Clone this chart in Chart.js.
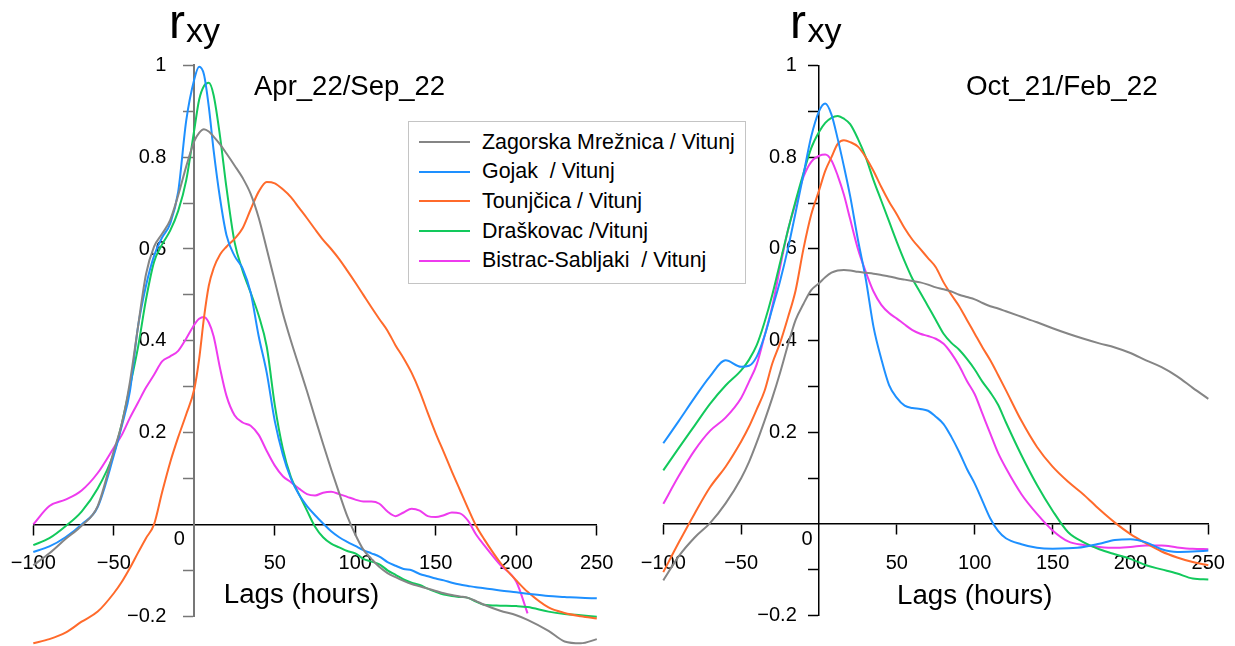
<!DOCTYPE html>
<html lang="hr">
<head>
    <meta charset="UTF-8">
    <title>Cross-correlation r_xy</title>
    <script src="https://cdn.jsdelivr.net/npm/chart.js"></script>
    <style>
        html, body {
            margin: 0;
            padding: 0;
            background: #fff;
            overflow: hidden;
        }
        #wrap {
            position: relative;
            width: 1235px;
            height: 646px;
            overflow: hidden;
        }
        canvas {
            position: absolute;
            top: 0;
        }
        /* canvases reach a little past the window so the tick-label padding does not squeeze the plot */
        #chart-apr { left: -20px; }
        #chart-oct { left: 620px; }
        .legend {
            position: absolute;
            left: 408px;
            top: 121px;
            width: 336px;
            height: 161px;
            border: 1.5px solid #c4c4c4;
            background: #fff;
            font-family: "Liberation Sans", Arial, sans-serif;
            font-size: 21.4px;
            color: #000;
        }
        .legend .row {
            position: absolute;
            left: 0;
            height: 30px;
            display: flex;
            align-items: center;
            white-space: pre;
        }
        .legend .swatch {
            width: 51px;
            height: 0;
            border-top: 2.5px solid;
            margin-left: 10px;
            margin-right: 12px;
        }
    </style>
</head>
<body>
<div id="wrap">
    <canvas id="chart-apr" width="660" height="646"></canvas>
    <canvas id="chart-oct" width="640" height="646"></canvas>
    <div class="legend" id="legend"></div>
</div>

<script>
    const fontFamily = '"Liberation Sans", Arial, Helvetica, sans-serif';

    // series (same order in both panels)
    const seriesNames = ['Zagorska Mrežnica / Vitunj', 'Gojak  / Vitunj', 'Tounjčica / Vitunj', 'Draškovac /Vitunj', 'Bistrac-Sabljaki  / Vitunj'];
    const seriesColors = ['#858585', '#1E90FF', '#FF6A2B', '#12C95C', '#EE3BEE'];

    // axis ticks
    const xTickValues = [-100, -50, 50, 100, 150, 200, 250];
    const xTickLabels = ['\u2212100', '\u221250', '50', '100', '150', '200', '250'];
    const yTickValues = [-0.2, -0.1, 0.1, 0.2, 0.3, 0.4, 0.5, 0.6, 0.7, 0.8, 0.9, 1];
    const yTickLabels = ['\u22120.2', '', '', '0.2', '', '0.4', '', '0.6', '', '0.8', '', '1'];

    // ---- Apr_22/Sep_22 ----
    const lagsApr = [-100, -90, -80, -70, -60, -50, -45, -40, -35, -30, -25, -20, -15, -10, -5,
        0, 3, 6, 9, 12, 16, 20,
        25, 30, 35, 40, 45, 50, 55, 60, 65, 70, 75, 80, 85, 90, 95, 100, 105, 110, 115, 120,
        125, 130, 135, 140, 145, 150, 155, 160, 165, 170, 175, 180,
        190, 200, 207, 220, 230, 240, 250];
    const zagorskaApr = [-0.089, -0.063, -0.032, -0.003, 0.04, 0.16, 0.22, 0.31, 0.43, 0.545, 0.605, 0.633, 0.663, 0.717, 0.78,
        0.835, 0.853, 0.861, 0.856, 0.845, 0.828, 0.808,
        0.782, 0.755, 0.72, 0.668, 0.6, 0.53, 0.46, 0.40, 0.345, 0.29, 0.232, 0.175, 0.12, 0.068, 0.018, -0.022, -0.055, -0.075, -0.093, -0.106,
        -0.115, -0.123, -0.13, -0.135, -0.14, -0.145, -0.15, -0.154, -0.157, -0.16, -0.167, -0.175,
        -0.188, -0.198, -0.208, -0.232, -0.255, -0.259, -0.25];
    const gojakApr = [-0.06, -0.048, -0.028, 0.0, 0.038, 0.15, 0.215, 0.29, 0.43, 0.52, 0.585, 0.625, 0.655, 0.725, 0.88,
        0.97, 0.997, 0.98, 0.91, 0.815, 0.71, 0.63,
        0.585, 0.558, 0.505, 0.41, 0.33, 0.225, 0.152, 0.10, 0.065, 0.04, 0.02, 0.002, -0.015, -0.028, -0.038, -0.047, -0.056, -0.063, -0.07, -0.082,
        -0.09, -0.097, -0.1, -0.108, -0.113, -0.118, -0.122, -0.127, -0.131, -0.134, -0.137, -0.139,
        -0.144, -0.148, -0.151, -0.156, -0.158, -0.16, -0.161];
    const tounjcicaApr = [-0.259, -0.25, -0.236, -0.212, -0.19, -0.15, -0.125, -0.095, -0.062, -0.03, 0.0, 0.07, 0.135, 0.19, 0.24,
        0.295, 0.36, 0.45, 0.52, 0.558, 0.588, 0.605,
        0.622, 0.645, 0.686, 0.725, 0.746, 0.743, 0.73, 0.713, 0.69, 0.667, 0.643, 0.62, 0.6, 0.578, 0.553, 0.527, 0.5, 0.473, 0.447, 0.422,
        0.39, 0.362, 0.33, 0.29, 0.243, 0.198, 0.157, 0.115, 0.075, 0.035, -0.003, -0.032,
        -0.083, -0.122, -0.147, -0.181, -0.193, -0.2, -0.205];
    const draskovacApr = [-0.045, -0.03, -0.004, 0.028, 0.078, 0.155, 0.22, 0.30, 0.385, 0.49, 0.572, 0.61, 0.64, 0.683, 0.75,
        0.86, 0.925, 0.955, 0.962, 0.935, 0.845, 0.733,
        0.615, 0.553, 0.505, 0.455, 0.387, 0.26, 0.165, 0.103, 0.066, 0.03, -0.005, -0.028, -0.042, -0.05, -0.058, -0.063, -0.075, -0.081, -0.087, -0.1,
        -0.11, -0.12, -0.127, -0.132, -0.14, -0.147, -0.153, -0.156, -0.158, -0.16, -0.168, -0.175,
        -0.177, -0.178, -0.18, -0.19, -0.195, -0.198, -0.201];
    const bistracApr = [0.0, 0.04, 0.054, 0.074, 0.112, 0.167, 0.195, 0.232, 0.265, 0.298, 0.326, 0.355, 0.366, 0.378, 0.405,
        0.435, 0.448, 0.452, 0.44, 0.41, 0.34, 0.28,
        0.238, 0.222, 0.215, 0.195, 0.16, 0.128, 0.105, 0.092, 0.078, 0.066, 0.063, 0.069, 0.071, 0.066, 0.06, 0.054, 0.05, 0.05, 0.045, 0.028,
        0.018, 0.026, 0.034, 0.03, 0.018, 0.016, 0.02, 0.026, 0.024, 0.008, -0.022, -0.045,
        -0.088, -0.125, -0.194, null, null, null, null];

    // ---- Oct_21/Feb_22 ----
    const lagsOct = [-100, -90, -80, -70, -60, -50, -45, -40, -35, -30, -25, -20, -15, -10, -5, 0,
        4, 8, 12, 16, 20,
        25, 30, 35, 40, 45, 50, 55, 60, 65, 70, 75, 80, 85, 90, 95, 100, 105, 110, 115, 120,
        130, 140, 150, 160, 170, 180, 190, 200, 210, 220, 230, 240, 250];
    const zagorskaOct = [-0.123, -0.07, -0.03, 0.002, 0.045, 0.1, 0.135, 0.178, 0.225, 0.275, 0.33, 0.39, 0.445, 0.48, 0.51, 0.525,
        0.538, 0.548, 0.553, 0.554, 0.553,
        0.55, 0.548, 0.546, 0.543, 0.54, 0.536, 0.533, 0.53, 0.527, 0.522, 0.516, 0.512, 0.507, 0.5, 0.495, 0.49, 0.482, 0.475, 0.47, 0.464,
        0.452, 0.44, 0.427, 0.415, 0.404, 0.394, 0.385, 0.373, 0.357, 0.342, 0.322, 0.297, 0.273];
    const gojakOct = [0.176, 0.225, 0.275, 0.322, 0.357, 0.343, 0.345, 0.365, 0.41, 0.47, 0.53, 0.6, 0.68, 0.762, 0.845, 0.9,
        0.917, 0.893, 0.84, 0.78, 0.715,
        0.62, 0.535, 0.43, 0.36, 0.303, 0.275, 0.258, 0.253, 0.251, 0.247, 0.234, 0.218, 0.19, 0.157, 0.12, 0.088, 0.05, 0.012, -0.015, -0.031,
        -0.044, -0.052, -0.054, -0.053, -0.05, -0.043, -0.035, -0.033, -0.04, -0.055, -0.061, -0.06, -0.058];
    const tounjcicaOct = [-0.105, -0.04, 0.022, 0.08, 0.125, 0.18, 0.212, 0.25, 0.29, 0.35, 0.395, 0.45, 0.51, 0.6, 0.675, 0.727,
        0.77, 0.8, 0.829, 0.837, 0.833,
        0.823, 0.8, 0.77, 0.735, 0.703, 0.675, 0.645, 0.62, 0.6, 0.58, 0.56, 0.527, 0.5, 0.475, 0.445, 0.415, 0.385, 0.357, 0.325, 0.292,
        0.225, 0.168, 0.125, 0.092, 0.064, 0.032, 0.003, -0.022, -0.042, -0.06, -0.073, -0.083, -0.09];
    const draskovacOct = [0.117, 0.166, 0.214, 0.262, 0.302, 0.335, 0.358, 0.39, 0.44, 0.5, 0.57, 0.64, 0.705, 0.765, 0.82, 0.855,
        0.875, 0.886, 0.89, 0.884, 0.872,
        0.84, 0.8, 0.75, 0.705, 0.66, 0.615, 0.573, 0.535, 0.505, 0.475, 0.445, 0.415, 0.395, 0.38, 0.36, 0.337, 0.31, 0.287, 0.26, 0.222,
        0.15, 0.085, 0.029, -0.018, -0.04, -0.055, -0.066, -0.076, -0.09, -0.099, -0.108, -0.119, -0.121];
    const bistracOct = [0.044, 0.105, 0.16, 0.203, 0.232, 0.275, 0.31, 0.348, 0.41, 0.475, 0.56, 0.64, 0.7, 0.757, 0.79, 0.803,
        0.806, 0.793, 0.76, 0.718, 0.665,
        0.6, 0.55, 0.507, 0.478, 0.46, 0.448, 0.435, 0.423, 0.415, 0.41, 0.404, 0.393, 0.372, 0.345, 0.312, 0.283, 0.24, 0.197, 0.155, 0.122,
        0.065, 0.022, -0.014, -0.038, -0.046, -0.05, -0.052, -0.05, -0.047, -0.047, -0.051, -0.054, -0.055];

    // Draws the r_xy label, the period caption, the x-axis title and the "0" at the origin
    function textPlugin(items, zeroDx) {
        return {
            id: 'panelText',
            afterDraw(chart) {
                const ctx = chart.ctx;
                ctx.save();
                ctx.fillStyle = '#000';
                items.forEach(t => {
                    ctx.font = t.size + 'px ' + fontFamily;
                    ctx.textAlign = t.align || 'left';
                    ctx.textBaseline = 'alphabetic';
                    ctx.fillText(t.text, t.x, t.y);
                });
                const xs = chart.scales.x, ys = chart.scales.y;
                ctx.font = '20px ' + fontFamily;
                ctx.textAlign = 'center';
                ctx.textBaseline = 'middle';
                ctx.fillText('0', xs.getPixelForValue(0) - zeroDx, ys.getPixelForValue(0) + 15);
                ctx.restore();
            }
        };
    }

    function makePanel(canvasId, lags, series, cfg) {
        const datasets = series.map((vals, i) => ({
            label: seriesNames[i],
            data: lags.map((x, j) => ({ x: x, y: vals[j] })).filter(p => p.y !== null),
            borderColor: seriesColors[i],
            borderWidth: 2,
            pointRadius: 0,
            fill: false,
            cubicInterpolationMode: 'monotone',
            clip: false
        }));

        return new Chart(document.getElementById(canvasId), {
            type: 'line',
            data: { datasets: datasets },
            options: {
                responsive: false,
                animation: false,
                layout: { padding: cfg.padding },
                plugins: {
                    legend: { display: false },
                    tooltip: { enabled: false }
                },
                scales: {
                    x: {
                        type: 'linear',
                        min: -100,
                        max: 250,
                        position: { y: 0 },
                        afterBuildTicks: axis => { axis.ticks = xTickValues.map(v => ({ value: v })); },
                        ticks: {
                            autoSkip: false,
                            maxRotation: 0,
                            padding: 17,
                            color: '#000',
                            font: { family: fontFamily, size: 20 },
                            callback: (v, i) => xTickLabels[i]
                        },
                        grid: { drawOnChartArea: false, tickLength: 10, color: '#000', tickColor: '#000', tickWidth: 1.5 },
                        border: { color: '#000', width: 1.5 }
                    },
                    y: {
                        type: 'linear',
                        min: -0.2,
                        max: 1,
                        position: { x: 0 },
                        afterBuildTicks: axis => { axis.ticks = yTickValues.map(v => ({ value: v })); },
                        ticks: {
                            autoSkip: false,
                            color: '#000',
                            font: { family: fontFamily, size: 20 },
                            // labels of a centred axis end at the axis line, so keep a gap after them
                            callback: (v, i) => yTickLabels[i] ? yTickLabels[i] + cfg.yGap : ''
                        },
                        grid: { drawOnChartArea: false, tickLength: 10, color: cfg.yColor, tickColor: cfg.yColor, tickWidth: 1.5 },
                        border: { color: cfg.yColor, width: cfg.yWidth }
                    }
                }
            },
            plugins: [textPlugin(cfg.texts, cfg.zeroDx)]
        });
    }

    // left panel canvas starts 20px left of the window
    makePanel('chart-apr', lagsApr, [zagorskaApr, gojakApr, tounjcicaApr, draskovacApr, bistracApr], {
        padding: { left: 53.3, right: 43.2, top: 65.4, bottom: 29.8 },
        yColor: '#777',
        yWidth: 2,
        yGap: '\u2007\u2007 ',
        zeroDx: 15,
        texts: [
            { text: 'r', x: 189, y: 38, size: 48 },
            { text: 'xy', x: 206, y: 42, size: 34 },
            { text: 'Apr_22/Sep_22', x: 274, y: 95, size: 27.5 },
            { text: 'Lags (hours)', x: 321.5, y: 603, size: 27.7, align: 'center' }
        ]
    });

    makePanel('chart-oct', lagsOct, [zagorskaOct, gojakOct, tounjcicaOct, draskovacOct, bistracOct], {
        padding: { left: 43.3, right: 51.7, top: 65.5, bottom: 30.3 },
        yColor: '#000',
        yWidth: 1.5,
        yGap: '\u2007\u2007',
        zeroDx: 12,
        texts: [
            { text: 'r', x: 170, y: 38, size: 48 },
            { text: 'xy', x: 187.5, y: 42, size: 34 },
            { text: 'Oct_21/Feb_22', x: 346, y: 95, size: 27.8 },
            { text: 'Lags (hours)', x: 354.7, y: 604, size: 27.7, align: 'center' }
        ]
    });

    // Legend box built from the series names and colours
    const legend = document.getElementById('legend');
    seriesNames.forEach((name, i) => {
        const row = document.createElement('div');
        row.className = 'row';
        row.style.top = (5 + i * 29.7) + 'px';
        const sw = document.createElement('span');
        sw.className = 'swatch';
        sw.style.borderTopColor = seriesColors[i];
        const label = document.createElement('span');
        label.textContent = name;
        row.appendChild(sw);
        row.appendChild(label);
        legend.appendChild(row);
    });
</script>
</body>
</html>
